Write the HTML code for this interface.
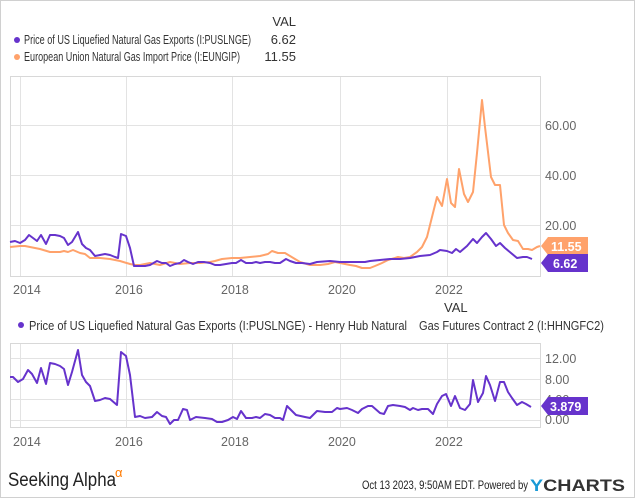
<!DOCTYPE html>
<html><head><meta charset="utf-8"><style>
html,body{margin:0;padding:0;background:#fff}
svg{display:block;font-family:"Liberation Sans",sans-serif}
</style></head><body>
<svg width="635" height="498" viewBox="0 0 635 498" xmlns="http://www.w3.org/2000/svg">
<rect x="0.5" y="0.5" width="634" height="497" fill="#fff" stroke="#d0d0d0"/>
<!-- top legend -->
<text x="296" y="26" font-size="13" fill="#333" text-anchor="end">VAL</text>
<circle cx="17" cy="40" r="3" fill="#6633cc"/>
<text x="24" y="44" font-size="13" fill="#333" textLength="227" lengthAdjust="spacingAndGlyphs">Price of US Liquefied Natural Gas Exports (I:PUSLNGE)</text>
<text x="296" y="44" font-size="13" fill="#333" text-anchor="end">6.62</text>
<circle cx="17" cy="57" r="3" fill="#ffa26b"/>
<text x="24" y="61" font-size="13" fill="#333" textLength="216" lengthAdjust="spacingAndGlyphs">European Union Natural Gas Import Price (I:EUNGIP)</text>
<text x="296" y="61" font-size="13" fill="#333" text-anchor="end">11.55</text>
<!-- top plot -->
<g stroke="#e3e3e3" stroke-width="1">
<line x1="10" y1="125.5" x2="540" y2="125.5"/><line x1="10" y1="175.5" x2="540" y2="175.5"/><line x1="10" y1="225.5" x2="540" y2="225.5"/>
<line x1="20.5" y1="76" x2="20.5" y2="277"/><line x1="126.5" y1="76" x2="126.5" y2="277"/><line x1="232.5" y1="76" x2="232.5" y2="277"/><line x1="340.5" y1="76" x2="340.5" y2="277"/><line x1="447.5" y1="76" x2="447.5" y2="277"/>
</g>
<rect x="10.5" y="76.5" width="530" height="200" fill="none" stroke="#d8d8d8"/>
<g font-size="12.5" fill="#666">
<text x="545" y="130">60.00</text><text x="545" y="180">40.00</text><text x="545" y="230">20.00</text>
<text x="13" y="294">2014</text><text x="115" y="294">2016</text><text x="221" y="294">2018</text><text x="328" y="294">2020</text><text x="435" y="294">2022</text>
</g>
<polyline fill="none" stroke="#ffa26b" stroke-width="2" stroke-linejoin="round" points="10,247 20,246 25,246 30,247 40,249 50,252 55,252 60,252 64,251 68,252 73,250 80,253 85,254 90,258 100,258 110,259 120,261 130,264 135,265 140,265 150,263 160,265 170,262 180,264 190,263 200,263 210,262 215,261 222,259 232,258 240,258 250,257 260,256 268,254 272,251 278,253 285,253 290,256 300,262 310,265 320,265 328,264 335,262 340,263 345,264 350,265 356,266 362,268 370,268 375,266 382,263 388,260 395,258 398,257 404,258 410,257 417,252 422,247 427,237 432,217 437,197 442,206 447,179 451,203 455,207 459,169 464,194 468,202 473,192 477,153 482,100 485,127 491,177 495,185 500,185 504,225 508,233 513,240 518,241 523,249 528,249 532,250 537,247 540,246"/>
<polyline fill="none" stroke="#6633cc" stroke-width="2" stroke-linejoin="round" points="10,242 15,241 20,243 25,240 29,235 33,238 37,241 41,235 46,244 50,235 55,235 60,236 64,238 68,245 72,242 78,232 82,244 86,248 90,250 95,256 100,255 105,254 110,255 115,257 118,258 121,234 126,236 130,248 134,266 140,266 145,266 150,265 157,261 162,263 166,263 170,266 175,264 180,263 184,260 188,262 193,264 198,262 204,262 210,263 215,265 220,265 226,264 232,263 236,263 241,260 246,263 252,263 256,262 260,263 265,262 270,262 275,263 280,263 286,259 290,261 296,263 302,263 310,264 317,262 330,261 340,262 350,262 358,262 365,262 370,261 380,260 390,259 400,259 410,258 420,256 430,255 437,252 440,250 447,251 452,253 456,249 460,252 467,246 473,239 477,243 482,237 486,233 491,239 496,246 500,243 505,248 511,253 517,258 523,257 527,257 532,259"/>
<polygon points="541,246 548,237 588,237 588,255 548,255" fill="#ffa26b"/>
<text x="551" y="251" font-size="12.5" font-weight="bold" fill="#fff">11.55</text>
<polygon points="541,263 548,254 588,254 588,272 548,272" fill="#6633cc"/>
<text x="553" y="268" font-size="12.5" font-weight="bold" fill="#fff">6.62</text>
<!-- bottom legend -->
<text x="444" y="312" font-size="13" fill="#333">VAL</text>
<circle cx="21" cy="325" r="3" fill="#6633cc"/>
<text x="29" y="330" font-size="13" fill="#333" textLength="378" lengthAdjust="spacingAndGlyphs">Price of US Liquefied Natural Gas Exports (I:PUSLNGE) - Henry Hub Natural</text>
<text x="419" y="330" font-size="13" fill="#333" textLength="185" lengthAdjust="spacingAndGlyphs">Gas Futures Contract 2 (I:HHNGFC2)</text>
<!-- bottom plot -->
<g stroke="#e3e3e3" stroke-width="1">
<line x1="10" y1="358.5" x2="540" y2="358.5"/><line x1="10" y1="379.5" x2="540" y2="379.5"/><line x1="10" y1="399.5" x2="540" y2="399.5"/><line x1="10" y1="420.5" x2="540" y2="420.5"/>
<line x1="20.5" y1="343" x2="20.5" y2="427"/><line x1="126.5" y1="343" x2="126.5" y2="427"/><line x1="232.5" y1="343" x2="232.5" y2="427"/><line x1="340.5" y1="343" x2="340.5" y2="427"/><line x1="447.5" y1="343" x2="447.5" y2="427"/>
</g>
<rect x="10.5" y="343.5" width="530" height="84" fill="none" stroke="#d8d8d8"/>
<g font-size="12.5" fill="#666">
<text x="545" y="363">12.00</text><text x="545" y="384">8.00</text><text x="545" y="404">4.00</text><text x="545" y="424">0.00</text>
<text x="13" y="446">2014</text><text x="115" y="446">2016</text><text x="221" y="446">2018</text><text x="328" y="446">2020</text><text x="435" y="446">2022</text>
</g>
<polyline fill="none" stroke="#6633cc" stroke-width="2" stroke-linejoin="round" points="10,377 13,377 18,382 23,379 28,370 32,374 37,383 41,368 46,384 50,363 55,364 60,366 64,369 68,385 72,372 78,350 82,375 86,382 90,386 95,401 100,400 105,398 110,399 117,405 121,352 126,356 130,375 135,417 140,416 145,418 152,417 157,412 162,416 166,417 170,424 174,420 178,420 183,409 187,410 190,420 196,417 205,418 212,419 217,422 222,422 228,420 233,417 237,419 241,411 246,418 252,418 256,417 260,418 265,414 270,415 275,418 280,418 283,420 287,406 292,411 296,415 305,417 310,418 317,411 325,412 332,412 337,408 340,409 347,408 352,410 358,413 362,409 368,406 372,406 380,413 384,414 388,406 393,405 400,406 405,407 410,410 413,408 418,410 422,409 428,409 433,414 437,404 442,396 446,394 451,406 455,396 460,408 465,410 470,404 473,380 478,402 483,393 486,376 490,385 495,401 500,382 504,382 508,392 512,398 517,405 522,402 526,404 531,407"/>
<polygon points="541,406 548,397 588,397 588,415 548,415" fill="#6633cc"/>
<text x="550" y="411" font-size="12.5" font-weight="bold" fill="#fff">3.879</text>
<!-- footer -->
<text x="8" y="486" font-size="19" fill="#222" textLength="108" lengthAdjust="spacingAndGlyphs">Seeking Alpha</text>
<text x="115" y="477" font-size="13" fill="#ff7a00">α</text>
<text x="362" y="489" font-size="11.5" fill="#222" textLength="166" lengthAdjust="spacingAndGlyphs">Oct 13 2023, 9:50AM EDT.  Powered by</text>
<text x="530" y="491" font-size="17" font-weight="bold" fill="#333" textLength="95" lengthAdjust="spacingAndGlyphs"><tspan fill="#1a9ad6">Y</tspan>CHARTS</text>
</svg>
</body></html>
